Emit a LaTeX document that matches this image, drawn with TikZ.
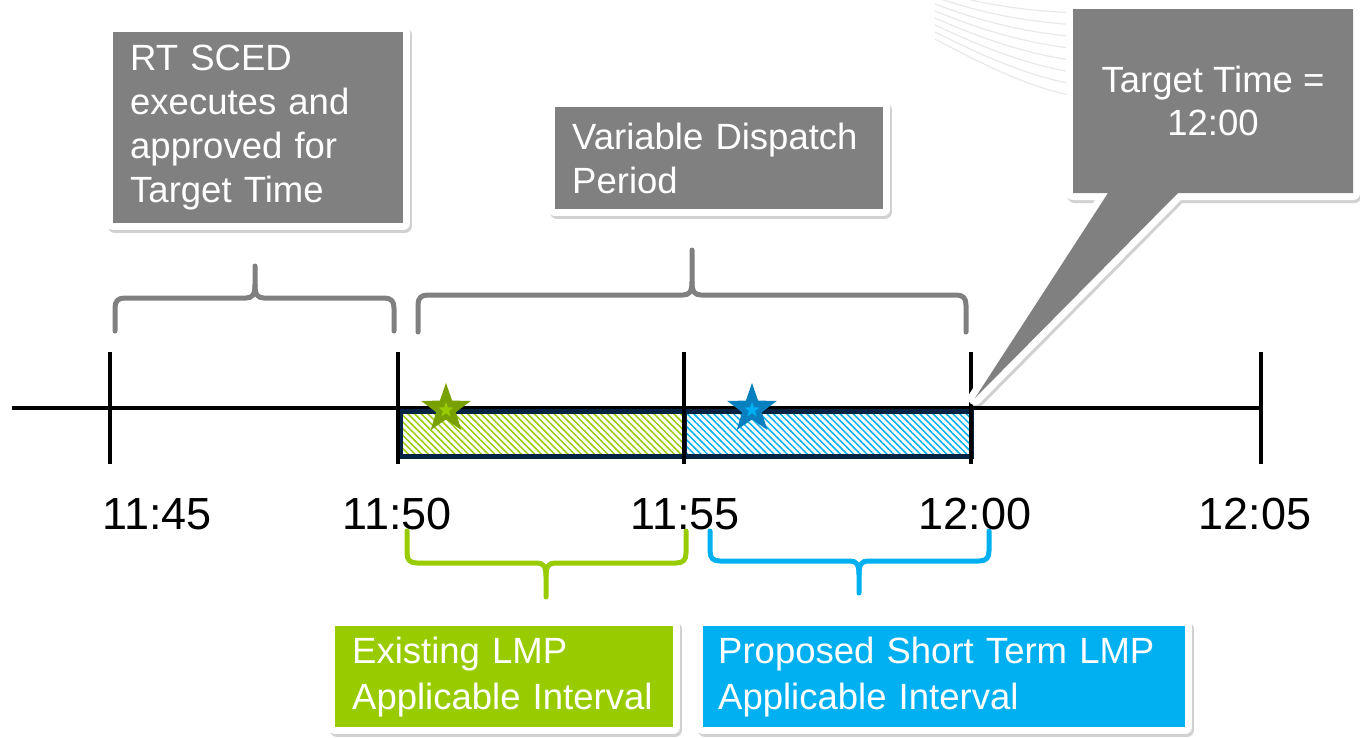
\documentclass[tikz,border=0pt]{standalone}
\usepackage{fontspec}
\setmainfont{Liberation Sans}
\usetikzlibrary{shapes.geometric,shapes.callouts,patterns.meta}
\definecolor{boxgray}{RGB}{128,128,128}
\definecolor{lmpgreen}{RGB}{153,204,0}
\definecolor{lmpblue}{RGB}{0,176,240}
\definecolor{stargreen}{RGB}{119,160,0}
\definecolor{starblue}{RGB}{8,128,192}
\definecolor{barnavy}{RGB}{4,34,66}
\definecolor{arcgray}{RGB}{232,232,232}
% brace: x1 x2 xm yend yhoriz ytip sign style
\newcommand\tlbrace[8]{%
  \draw[#8] (#1,#4) -- (#1,{#5+10*(#7)}) .. controls (#1,{#5+3*(#7)}) and ({#1+3},#5) .. ({#1+10},#5)
    -- ({#3-9},#5) .. controls ({#3-3},#5) and (#3,{#5-3*(#7)}) .. (#3,{#5-13*(#7)}) -- (#3,#6);
  \draw[#8] (#2,#4) -- (#2,{#5+10*(#7)}) .. controls (#2,{#5+3*(#7)}) and ({#2-3},#5) .. ({#2-10},#5)
    -- ({#3+9},#5) .. controls ({#3+3},#5) and (#3,{#5-3*(#7)}) .. (#3,{#5-13*(#7)});
}
\begin{document}
\begin{tikzpicture}[x=1pt,y=-1pt,
  shadowed/.style={
    preaction={draw=black, draw opacity=0.18, line width=14pt, line join=round,
      transform canvas={xshift=1.5pt,yshift=-3pt}},
    preaction={draw=white, line width=14pt, line join=round}},
  boxtext/.style={font=\fontsize{36.5pt}{44pt}\selectfont, text=white, align=left,
    inner ysep=0pt, inner xsep=17pt, anchor=north west},
  graybox/.style={shadowed, fill=boxgray, boxtext},
  greenbox/.style={shadowed, fill=lmpgreen, boxtext},
  bluebox/.style={shadowed, fill=lmpblue, boxtext},
  tlabel/.style={font=\fontsize{45pt}{54pt}\selectfont, anchor=base, inner sep=0pt},
  graybrace/.style={draw=boxgray, line width=5pt, line cap=round, line join=round},
  greenbrace/.style={draw=lmpgreen, line width=5pt, line cap=round, line join=round},
  bluebrace/.style={draw=lmpblue, line width=5pt, line cap=round, line join=round},
  axis/.style={line width=4pt, black},
  tick/.style={line width=4.5pt, black},
  bar/.style={draw=barnavy, line width=5pt},
  starshape/.style={star, star points=5, star point ratio=2.5, inner sep=0pt},
]
\useasboundingbox (0,0) rectangle (1360,737);

% faint background lines
\begin{scope}
  \clip (0,0) rectangle (1360,737);
  \foreach \i in {0,...,7}
    \draw[arcgray, line width=1.2pt] (935,{-10+7*\i}) .. controls (985,{6+8.5*\i}) and (1030,{11+11*\i}) .. (1078,{13+12*\i});
\end{scope}

% timeline
\coordinate (tA) at (110,408);
\coordinate (tB) at (398,408);
\coordinate (tC) at (684,408);
\coordinate (tD) at (971,408);
\coordinate (tE) at (1261,408);
\draw[axis] (12,408) -- (1262,408);

% hatched bars
\fill[white] (400,411) rectangle (971,456);
\fill[pattern={Lines[angle=-45,distance=4.7pt,line width=1.5pt]}, pattern color=lmpgreen] (400,411) rectangle (684,456);
\fill[pattern={Lines[angle=-45,distance=4.7pt,line width=1.5pt]}, pattern color=lmpblue] (684,411) rectangle (971,456);
\draw[bar] (400,411) rectangle (684,456);
\draw[bar] (684,411) rectangle (971,456);

% ticks
\foreach \t in {tA,tB,tC,tD,tE}
  \draw[tick] ([yshift=56pt]\t) -- ([yshift=-56pt]\t);

% stars
\node[starshape, minimum size=52pt, fill=stargreen] (gstar) at (446,409) {};
\node[starshape, minimum size=16pt, fill=lmpgreen] (gstarin) at (446,410) {};
\node[starshape, minimum size=52pt, fill=starblue] (bstar) at (752,409) {};
\node[starshape, minimum size=16pt, fill=lmpblue] (bstarin) at (752,410) {};

% time labels
\node[tlabel] (l1145) at (157,529) {11:45};
\node[tlabel] (l1150) at (397,529) {11:50};
\node[tlabel] (l1155) at (685,529) {11:55};
\node[tlabel] (l1200) at (975,529) {12:00};
\node[tlabel] (l1205) at (1255,529) {12:05};

% braces
\tlbrace{115}{394}{255}{331}{298}{266}{1}{graybrace}
\tlbrace{418}{966}{692}{332}{295}{250}{1}{graybrace}
\tlbrace{407}{686}{546}{531}{563}{597}{-1}{greenbrace}
\tlbrace{710}{989}{859}{531}{561}{593}{-1}{bluebrace}

% boxes
\node[graybox, minimum width=290pt, minimum height=191pt, text width=256pt] (rt) at (113,32)
  {RT SCED\\executes and\\approved for\\Target Time};
\node[graybox, minimum width=328pt, minimum height=102pt, text width=294pt] (vd) at (555,107)
  {Variable Dispatch\\Period};
\node[greenbox, font=\fontsize{36.5pt}{46pt}\selectfont, minimum width=338pt, minimum height=101pt, text width=304pt] (ex) at (335,626)
  {Existing LMP\\Applicable Interval};
\node[bluebox, font=\fontsize{36.5pt}{46pt}\selectfont, inner xsep=15pt, minimum width=482pt, minimum height=101pt, text width=452pt] (pr) at (703,626)
  {Proposed Short Term LMP\\Applicable Interval};

% callout
\coordinate (tip) at (975,398);
\node[shadowed, fill=boxgray, rectangle callout, callout absolute pointer={(tip)},
  callout pointer width=70pt, minimum width=280pt, minimum height=184pt,
  font=\fontsize{36.5pt}{43pt}\selectfont, text=white, align=center, inner sep=0pt] (tt) at (1213,101)
  {Target Time =\\12:00};
\end{tikzpicture}
\end{document}
